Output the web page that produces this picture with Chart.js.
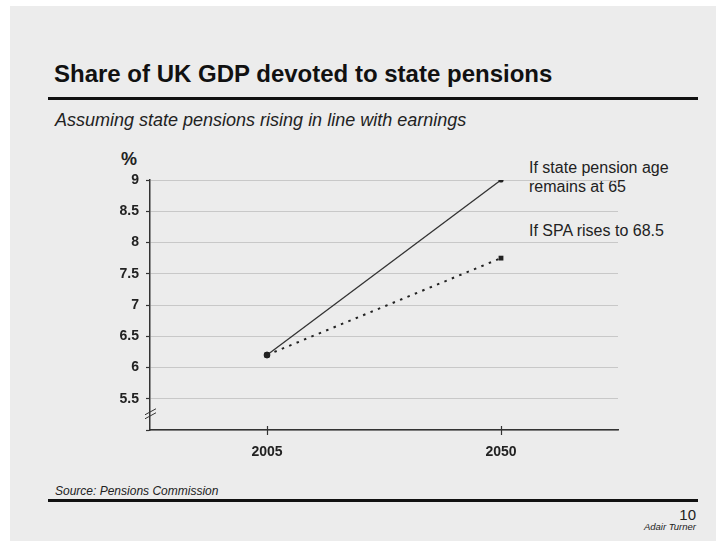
<!DOCTYPE html>
<html>
<head>
<meta charset="utf-8">
<script src="https://cdn.jsdelivr.net/npm/chart.js@4.4.1/dist/chart.umd.min.js"></script>
<style>
  html, body { margin: 0; padding: 0; background: #fff; }
  body { width: 716px; height: 541px; position: relative; overflow: hidden;
         font-family: "Liberation Sans", Arial, sans-serif; color: #111; }
  #slide { position: absolute; left: 10px; top: 6px; right: 0; bottom: 0; background: #ececec; }
  #chartBox { position: absolute; left: 0; top: 0; width: 716px; height: 541px; }
  .txt { position: absolute; white-space: nowrap; }
  .rule { position: absolute; background: #111; }
  #title { left: 54px; top: 62px; font-size: 24px; line-height: 24px; font-weight: bold; }
  #subtitle { left: 55px; top: 111px; font-size: 18px; line-height: 18px; font-style: italic; color: #222; }
  #unit { left: 121px; top: 150px; font-size: 18px; line-height: 18px; font-weight: bold; color: #222; }
  .note { left: 529px; font-size: 16px; line-height: 19px; color: #222; }
  #source { left: 55px; top: 485px; font-size: 12px; line-height: 12px; font-style: italic; color: #222; }
  #page { right: 20px; top: 507px; font-size: 15px; line-height: 15px; color: #222; }
  #author { right: 20px; top: 522px; font-size: 9.5px; line-height: 10px; font-style: italic; color: #222; }
</style>
</head>
<body>
<div id="slide"></div>
<div class="txt" id="title">Share of UK GDP devoted to state pensions</div>
<div class="rule" style="left:48px; top:97px; width:650px; height:3px;"></div>
<div class="txt" id="subtitle">Assuming state pensions rising in line with earnings</div>
<div class="txt" id="unit">%</div>
<div class="txt note" style="top:158px;">If state pension age<br>remains at 65</div>
<div class="txt note" style="top:221px;">If SPA rises to 68.5</div>
<div class="txt" id="source">Source: Pensions Commission</div>
<div class="rule" style="left:48px; top:499px; width:650px; height:3px;"></div>
<div class="txt" id="page">10</div>
<div class="txt" id="author">Adair Turner</div>
<div id="chartBox"><canvas id="pensionChart" width="716" height="541"></canvas></div>

<script>
// Share of GDP (%) spent on state pensions
var years = ['2005', '2050'];
var spaStays65 = [6.2, 9.0];
var spaRises685 = [6.2, 7.75];

var yMin = 5;
var yMax = 9;
var yStep = 0.5;

var axisColor = '#333333';

// tick marks that cross the x axis, plus the broken-axis mark near the bottom of y
var axisMarks = {
    id: 'axisMarks',
    afterDraw: function(chart) {
        var ctx = chart.ctx;
        var xs = chart.scales.x;
        var ys = chart.scales.y;
        var bottom = chart.chartArea.bottom;
        var left = chart.chartArea.left;
        ctx.save();
        ctx.strokeStyle = axisColor;
        ctx.lineWidth = 1.2;
        years.forEach(function(y, i) {
            var px = Math.round(xs.getPixelForValue(i)) + 0.5;
            ctx.beginPath();
            ctx.moveTo(px, bottom - 4);
            ctx.lineTo(px, bottom + 5);
            ctx.stroke();
        });
        var by = ys.getPixelForValue(5.26);
        ctx.lineWidth = 1;
        [-2, 2].forEach(function(d) {
            ctx.beginPath();
            ctx.moveTo(left - 5, by + d + 3);
            ctx.lineTo(left + 6, by + d - 3);
            ctx.stroke();
        });
        ctx.restore();
    }
};

var ctx = document.getElementById('pensionChart').getContext('2d');
var chart = new Chart(ctx, {
    type: 'line',
    data: {
        labels: years,
        datasets: [
            {
                label: 'If state pension age remains at 65',
                data: spaStays65,
                borderColor: '#333333',
                backgroundColor: '#222222',
                borderWidth: 1.3,
                pointStyle: 'circle',
                pointRadius: [3.2, 2.6],
                pointBorderWidth: 0,
                fill: false
            },
            {
                label: 'If SPA rises to 68.5',
                data: spaRises685,
                borderColor: '#222222',
                backgroundColor: '#222222',
                borderWidth: 2,
                borderDash: [2.5, 5.5],
                pointStyle: ['circle', 'rect'],
                pointRadius: [3.2, 3.4],
                pointBorderWidth: 0,
                fill: false
            }
        ]
    },
    options: {
        responsive: false,
        animation: false,
        layout: { padding: { left: 0, top: 180, right: 98, bottom: 0 } },
        plugins: {
            legend: { display: false },
            tooltip: { enabled: false }
        },
        scales: {
            x: {
                offset: true,
                grid: { display: false, drawTicks: false },
                border: { display: true, color: axisColor, width: 1.5 },
                ticks: {
                    color: '#222',
                    padding: 14,
                    font: { family: '"Liberation Sans", Arial, sans-serif', size: 14, weight: 'bold' }
                },
                afterFit: function(scale) { scale.height = 111; }
            },
            y: {
                min: yMin,
                max: yMax,
                grid: {
                    color: '#c8c8c8',
                    lineWidth: 1,
                    drawTicks: true,
                    tickLength: 4,
                    tickColor: axisColor,
                    tickWidth: 1.2
                },
                border: { display: true, color: axisColor, width: 1.5 },
                ticks: {
                    stepSize: yStep,
                    color: '#222',
                    padding: 7,
                    font: { family: '"Liberation Sans", Arial, sans-serif', size: 14, weight: 'bold' },
                    callback: function(v) { return v === yMin ? '' : v; }
                },
                afterFit: function(scale) { scale.width = 150; }
            }
        }
    },
    plugins: [axisMarks]
});
</script>
</body>
</html>
